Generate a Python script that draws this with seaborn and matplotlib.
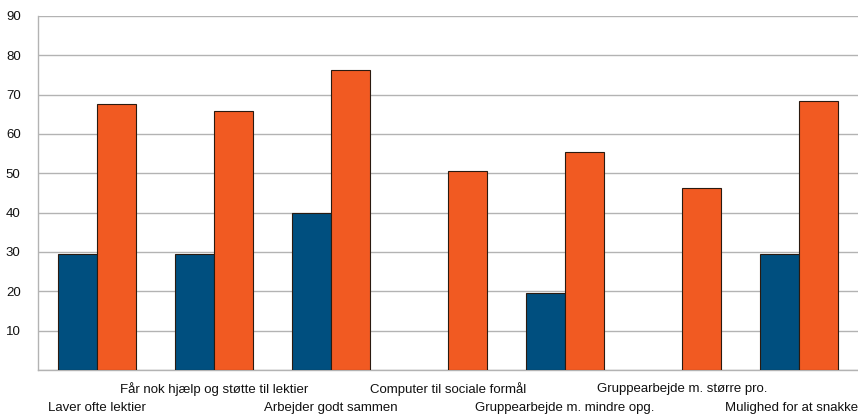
import numpy as np
import pandas as pd
import seaborn as sns
import matplotlib.pyplot as plt
import matplotlib.transforms as mtransforms

categories = [
    "Laver ofte lektier",
    "Får nok hjælp og støtte til lektier",
    "Arbejder godt sammen",
    "Computer til sociale formål",
    "Gruppearbejde m. mindre opg.",
    "Gruppearbejde m. større pro.",
    "Mulighed for at snakke",
]
serie1 = [29.5, 29.5, 40.0, np.nan, 19.7, np.nan, 29.5]
serie2 = [67.6, 65.9, 76.3, 50.5, 55.5, 46.2, 68.3]
y_ticks = [0, 10, 20, 30, 40, 50, 60, 70, 80, 90]

rows = []
for c, a, b in zip(categories, serie1, serie2):
    if not np.isnan(a):
        rows.append({"kategori": c, "serie": "Serie 1", "værdi": a})
    rows.append({"kategori": c, "serie": "Serie 2", "værdi": b})
df = pd.DataFrame(rows)

sns.set_style("white")
plt.rcParams['font.family'] = ['Liberation Sans', 'DejaVu Sans']

fig = plt.figure(figsize=(8.58, 4.17), dpi=100)
ax = fig.add_axes([38 / 858, 47 / 417, 820 / 858, 354 / 417])

sns.barplot(data=df, x="kategori", y="værdi", hue="serie",
            order=categories, hue_order=["Serie 1", "Serie 2"],
            palette=["#004f7f", "#f15a22"], saturation=1, width=0.667,
            legend=False, edgecolor="#2a1a10", linewidth=0.8, ax=ax, zorder=3)

ax.set_xlim(-0.5, len(categories) - 0.5)
ax.set_ylim(0, 90)
ax.set_yticks(y_ticks)
ax.set_yticklabels([""] + [str(t) for t in y_ticks[1:]])
ax.yaxis.grid(True, color="#b3b3b3", linewidth=1)
ax.set_axisbelow(True)
ax.tick_params(axis="y", length=7.5, width=1, color="#b3b3b3", pad=5,
               labelsize=9.5, labelcolor="#111111")

# category boundaries as tick marks, labels staggered in two rows
ax.set_xticks(np.arange(-0.5, len(categories)))
ax.set_xticklabels([])
ax.tick_params(axis="x", length=4.5, width=1, color="#b3b3b3")

trans = mtransforms.blended_transform_factory(ax.transData, ax.transAxes)
for i, c in enumerate(categories):
    dy = -27.4 if i % 2 == 0 else -13.7
    t = mtransforms.offset_copy(trans, fig=fig, y=dy, units="points")
    if i == len(categories) - 1:
        ax.text(len(categories) - 0.5, 0, c, transform=t, ha="right",
                va="center", fontsize=9.5, color="#111111")
    else:
        ax.text(i, 0, c, transform=t, ha="center", va="center",
                fontsize=9.5, color="#111111")

ax.set_xlabel("")
ax.set_ylabel("")
for s in ["top", "right"]:
    ax.spines[s].set_visible(False)
for s in ["left", "bottom"]:
    ax.spines[s].set_color("#b3b3b3")
    ax.spines[s].set_linewidth(1)

fig.savefig("out.png", dpi=100)
